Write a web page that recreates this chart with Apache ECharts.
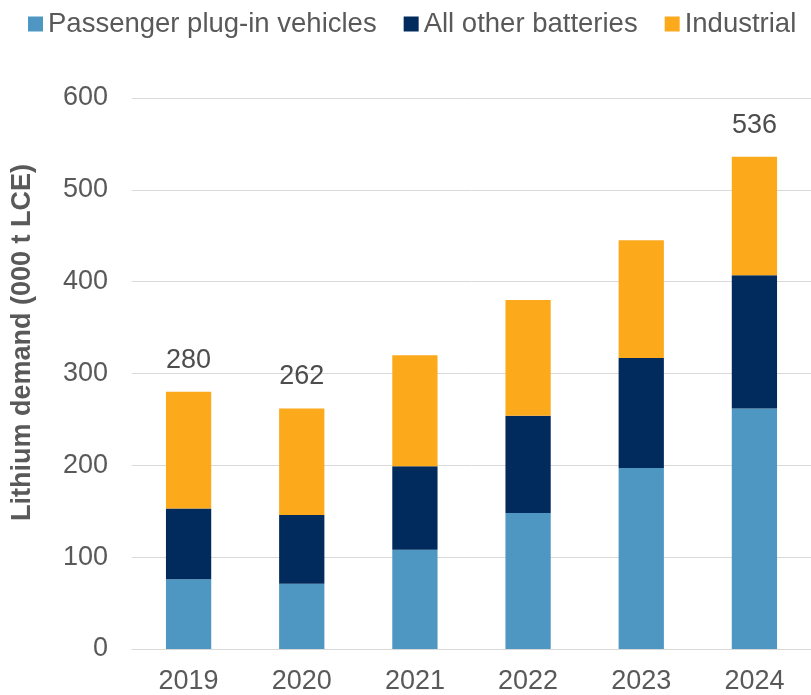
<!DOCTYPE html>
<html>
<head>
<meta charset="utf-8">
<script src="https://cdn.jsdelivr.net/npm/echarts@6/dist/echarts.min.js"></script>
<style>html,body{margin:0;padding:0;background:#fff}#c{width:811px;height:695px}</style>
</head>
<body>
<div id="c"></div>
<script>
var categories = ['2019', '2020', '2021', '2022', '2023', '2024'];
var passenger = [76, 71, 108, 148, 197, 262];
var otherBatteries = [77, 75, 91, 106, 120, 145];
var industrial = [127, 116, 121, 126, 128, 129];
var totalLabels = ['280', '262', '', '', '', '536'];
var yTicks = [0, 100, 200, 300, 400, 500, 600];

var chart = echarts.init(document.getElementById('c'));
var font = 'Liberation Sans, Arial, sans-serif';
chart.setOption({
  animation: false,
  textStyle: { fontFamily: font },
  legend: {
    left: 23, top: 5,
    itemWidth: 15, itemHeight: 15, itemGap: 27,
    icon: 'rect',
    textStyle: { fontSize: 27.5, color: '#595959', fontFamily: font },
    data: ['Passenger plug-in vehicles', 'All other batteries', 'Industrial']
  },
  grid: { left: 132, right: 0, top: 98, bottom: 45 },
  xAxis: {
    type: 'category', data: categories,
    axisLine: { show: true, lineStyle: { color: '#d9d9d9' } },
    axisTick: { show: false },
    axisLabel: { fontSize: 27, color: '#595959', margin: 19, fontFamily: font }
  },
  yAxis: {
    type: 'value', min: yTicks[0], max: yTicks[yTicks.length - 1], interval: 100,
    name: 'Lithium demand (000 t LCE)',
    nameLocation: 'middle', nameGap: 96, nameRotate: 90,
    nameTextStyle: { fontSize: 27, fontWeight: 'bold', color: '#595959', fontFamily: font, padding: [0, 0, 0, 62] },
    axisLine: { show: false }, axisTick: { show: false },
    splitLine: { lineStyle: { color: '#d9d9d9', width: 1 } },
    axisLabel: { fontSize: 27, color: '#595959', margin: 24, fontFamily: font }
  },
  series: [
    { name: 'Passenger plug-in vehicles', type: 'bar', stack: 't', data: passenger, barWidth: '40%', itemStyle: { color: '#4E97C2' } },
    { name: 'All other batteries', type: 'bar', stack: 't', data: otherBatteries, itemStyle: { color: '#002B5C' } },
    { name: 'Industrial', type: 'bar', stack: 't', data: industrial, itemStyle: { color: '#FCA91C' },
      label: { show: true, position: 'top', distance: 18, fontSize: 27, color: '#4d4d4d', fontFamily: font,
        formatter: function (p) { return totalLabels[p.dataIndex]; } } }
  ]
});
</script>
</body>
</html>
